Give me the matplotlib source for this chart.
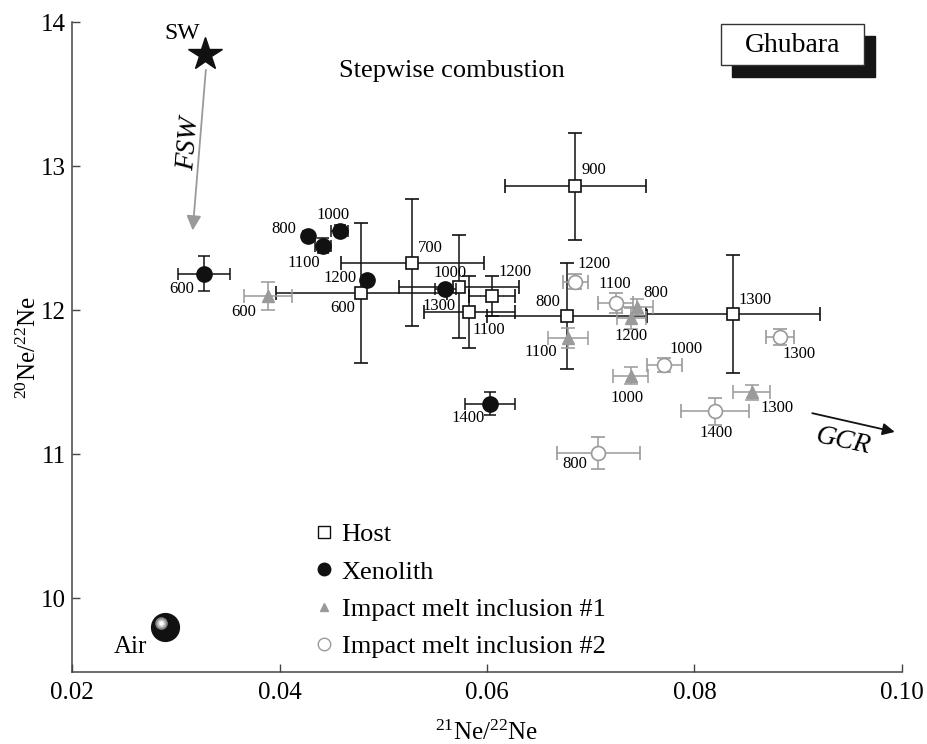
import matplotlib
matplotlib.use("Agg")
import matplotlib.pyplot as plt
from matplotlib.lines import Line2D
from matplotlib.patches import Rectangle
from matplotlib import transforms

plt.rcParams['font.family'] = ['Liberation Serif', 'DejaVu Serif']
plt.rcParams['mathtext.fontset'] = 'custom'
plt.rcParams['mathtext.rm'] = 'Liberation Serif'
plt.rcParams['mathtext.it'] = 'Liberation Serif:italic'

# ---------------- data ----------------
host_T = [600, 700, 800, 900, 1000, 1100, 1200, 1300]
host_x = [0.0479, 0.0528, 0.0677, 0.0685, 0.0573, 0.0583, 0.0605, 0.0837]
host_y = [12.12, 12.33, 11.96, 12.86, 12.165, 11.99, 12.10, 11.975]
host_xerr = [0.0082, 0.0069, 0.0077, 0.0068, 0.0058, 0.0044, 0.0022, 0.0084]
host_yerr = [0.485, 0.44, 0.37, 0.37, 0.36, 0.25, 0.14, 0.41]

xeno_T = [600, 800, 1000, 1100, 1200, 1300, 1400]
xeno_x = [0.03275, 0.0427, 0.0458, 0.0442, 0.0484, 0.0560, 0.0603]
xeno_y = [12.255, 12.515, 12.553, 12.45, 12.21, 12.149, 11.35]
xeno_xerr = [0.0025, 0.0004, 0.0008, 0.0008, 0.0004, 0.001, 0.0024]
xeno_yerr = [0.12, 0.02, 0.04, 0.05, 0.03, 0.03, 0.08]

imi1_T = [600, 800, 1000, 1100, 1200, 1300]
imi1_x = [0.0389, 0.0745, 0.07385, 0.0678, 0.0739, 0.0855]
imi1_y = [12.10, 12.026, 11.546, 11.81, 11.944, 11.43]
imi1_xerr = [0.0023, 0.0015, 0.0017, 0.0019, 0.0014, 0.0018]
imi1_yerr = [0.10, 0.055, 0.06, 0.07, 0.07, 0.05]

imi2_T = [800, 1000, 1100, 1200, 1300, 1400]
imi2_x = [0.0707, 0.0771, 0.0724, 0.0685, 0.0882, 0.0820]
imi2_y = [11.01, 11.62, 12.05, 12.20, 11.817, 11.30]
imi2_xerr = [0.0040, 0.0017, 0.0017, 0.0012, 0.00135, 0.0033]
imi2_yerr = [0.11, 0.05, 0.07, 0.055, 0.055, 0.093]

sw_point = (0.0328, 13.78)
air_point = (0.029, 9.80)
fsw_arrow = [(0.0329, 13.67), (0.03163, 12.555)]
gcr_arrow = [(0.09135, 11.286), (0.0993, 11.156)]

x_ticks = [0.02, 0.04, 0.06, 0.08, 0.10]
x_ticklabels = ['0.02', '0.04', '0.06', '0.08', '0.10']
y_ticks = [10, 11, 12, 13, 14]

# label offsets (pixels) for temperature labels
host_off = [(-19, -15), (18, 15), (-19, 14), (19, 16), (-9, 14), (19, -18), (23, 24), (22, 14)]
xeno_off = [(-23, -15), (-24, 7), (-7, 16), (-19, -17), (-27, 2), (-6, -17), (-22, -14)]
imi1_off = [(-24, -16), (18, 14), (-4, -22), (-27, -14), (0, -18), (25, -16)]
imi2_off = [(-23, -11), (22, 16), (-1, 19), (19, 18), (19, -17), (1, -22)]

# ---------------- figure ----------------
fig = plt.figure(figsize=(9.28, 7.44), dpi=100)
ax = fig.add_axes([72/928, 1-672.3/744, 830/928, (672.3-22.3)/744])
ax.set_xlim(0.02, 0.10)
ax.set_ylim(9.487, 14.0)

BLACK = '#111111'
GRAY = '#9a9a9a'
LBL = 12

# host
ax.errorbar(host_x, host_y, xerr=host_xerr, yerr=host_yerr, fmt='s', ms=9,
            mfc='white', mec=BLACK, mew=1.2, ecolor=BLACK, elinewidth=1.1,
            capsize=5, capthick=1.1, zorder=2)
# impact melt #1
ax.errorbar(imi1_x, imi1_y, xerr=imi1_xerr, yerr=imi1_yerr, fmt='^', ms=8,
            mfc=GRAY, mec=GRAY, ecolor=GRAY, elinewidth=1.1,
            capsize=5, capthick=1.1, zorder=3)
# impact melt #2
ax.errorbar(imi2_x, imi2_y, xerr=imi2_xerr, yerr=imi2_yerr, fmt='o', ms=10,
            mfc='white', mec=GRAY, mew=1.2, ecolor=GRAY, elinewidth=1.1,
            capsize=5, capthick=1.1, zorder=3)
# xenolith
ax.errorbar(xeno_x, xeno_y, xerr=xeno_xerr, yerr=xeno_yerr, fmt='o', ms=11,
            mfc=BLACK, mec=BLACK, ecolor=BLACK, elinewidth=1.1,
            capsize=4, capthick=1.1, zorder=4)

for T, x, y, off in zip(host_T, host_x, host_y, host_off):
    ax.annotate(str(T), (x, y), xytext=off, textcoords='offset pixels',
                ha='center', va='center', fontsize=LBL, zorder=6)
for T, x, y, off in zip(xeno_T, xeno_x, xeno_y, xeno_off):
    ax.annotate(str(T), (x, y), xytext=off, textcoords='offset pixels',
                ha='center', va='center', fontsize=LBL, zorder=6)
for T, x, y, off in zip(imi1_T, imi1_x, imi1_y, imi1_off):
    ax.annotate(str(T), (x, y), xytext=off, textcoords='offset pixels',
                ha='center', va='center', fontsize=LBL, zorder=6)
for T, x, y, off in zip(imi2_T, imi2_x, imi2_y, imi2_off):
    ax.annotate(str(T), (x, y), xytext=off, textcoords='offset pixels',
                ha='center', va='center', fontsize=LBL, zorder=6)

# SW star
ax.plot([sw_point[0]], [sw_point[1]], marker='*', ms=25, color=BLACK, ls='none', zorder=5)
ax.annotate('SW', sw_point, xytext=(-23, 20), textcoords='offset pixels',
            ha='center', va='center', fontsize=17)

# FSW arrow
ax.annotate('', xy=fsw_arrow[1], xytext=fsw_arrow[0],
            arrowprops=dict(arrowstyle='-|>', color=GRAY, lw=1.3, mutation_scale=22,
                            shrinkA=0, shrinkB=0))
ax.text(0.0313, 13.16, 'FSW', rotation=85, fontsize=20, style='italic',
        ha='center', va='center')

# GCR arrow
ax.annotate('', xy=gcr_arrow[1], xytext=gcr_arrow[0],
            arrowprops=dict(arrowstyle='-|>', color=BLACK, lw=1.3, mutation_scale=18,
                            shrinkA=0, shrinkB=0))
ax.text(0.0943, 11.09, 'GCR', rotation=-12, fontsize=20, style='italic',
        ha='center', va='center')

# Air sphere
ax.plot([air_point[0]], [air_point[1]], marker='o', ms=20, color=BLACK, ls='none', zorder=5)
hl = transforms.offset_copy(ax.transData, fig=fig, x=-4, y=4, units='dots')
ax.plot([air_point[0]], [air_point[1]], marker='o', ms=8, color='#888888', ls='none',
        zorder=6, transform=hl)
ax.plot([air_point[0]], [air_point[1]], marker='o', ms=5, color='#c8c8c8', ls='none',
        zorder=7, transform=hl)
ax.plot([air_point[0]], [air_point[1]], marker='o', ms=2.2, color='white', ls='none',
        zorder=8, transform=hl)
ax.annotate('Air', air_point, xytext=(-35, -20), textcoords='offset pixels',
            ha='center', va='center', fontsize=18)

# title text
ax.text(0.0566, 13.66, 'Stepwise combustion', fontsize=19, ha='center', va='center')

# Ghubara box
fig.patches.append(Rectangle((731.7/928, 1-76.7/744), 143.3/928, 40.7/744,
                             transform=fig.transFigure, facecolor='#151515',
                             edgecolor='#151515', zorder=1))
fig.patches.append(Rectangle((721/928, 1-65/744), 143.3/928, 40.7/744,
                             transform=fig.transFigure, facecolor='white',
                             edgecolor='#333333', lw=1.0, zorder=2))
fig.text(792.7/928, 1-45/744, 'Ghubara', fontsize=20, ha='center', va='center', zorder=3)

# axes styling
for s in ['top', 'right']:
    ax.spines[s].set_visible(False)
for s in ['left', 'bottom']:
    ax.spines[s].set_color('#444444')
    ax.spines[s].set_linewidth(1.1)
ax.set_xticks(x_ticks)
ax.set_xticklabels(x_ticklabels)
ax.set_yticks(y_ticks)
ax.tick_params(direction='in', length=6, width=1.0, color='#444444', labelsize=18)
ax.tick_params(axis='x', pad=7)
ax.tick_params(axis='y', pad=4.5)
ax.set_xlabel('$^{21}$Ne/$^{22}$Ne', fontsize=18, labelpad=12)
ax.set_ylabel('$^{20}$Ne/$^{22}$Ne', fontsize=18, labelpad=0)

# legend
handles = [
    Line2D([], [], marker='s', ls='none', ms=8, mfc='white', mec=BLACK, mew=1.0),
    Line2D([], [], marker='o', ls='none', ms=9, mfc=BLACK, mec=BLACK),
    Line2D([], [], marker='^', ls='none', ms=6, mfc=GRAY, mec=GRAY),
    Line2D([], [], marker='o', ls='none', ms=9, mfc='white', mec=GRAY, mew=1.0),
]
labels = ['Host', 'Xenolith', 'Impact melt inclusion #1', 'Impact melt inclusion #2']
ax.legend(handles, labels, loc='upper left', bbox_to_anchor=(314/928, 1-523/744),
          bbox_transform=fig.transFigure, frameon=False, fontsize=19,
          handlelength=0.75, handletextpad=0.3, labelspacing=0.52, borderpad=0,
          borderaxespad=0)

fig.savefig('out.png', dpi=100)
